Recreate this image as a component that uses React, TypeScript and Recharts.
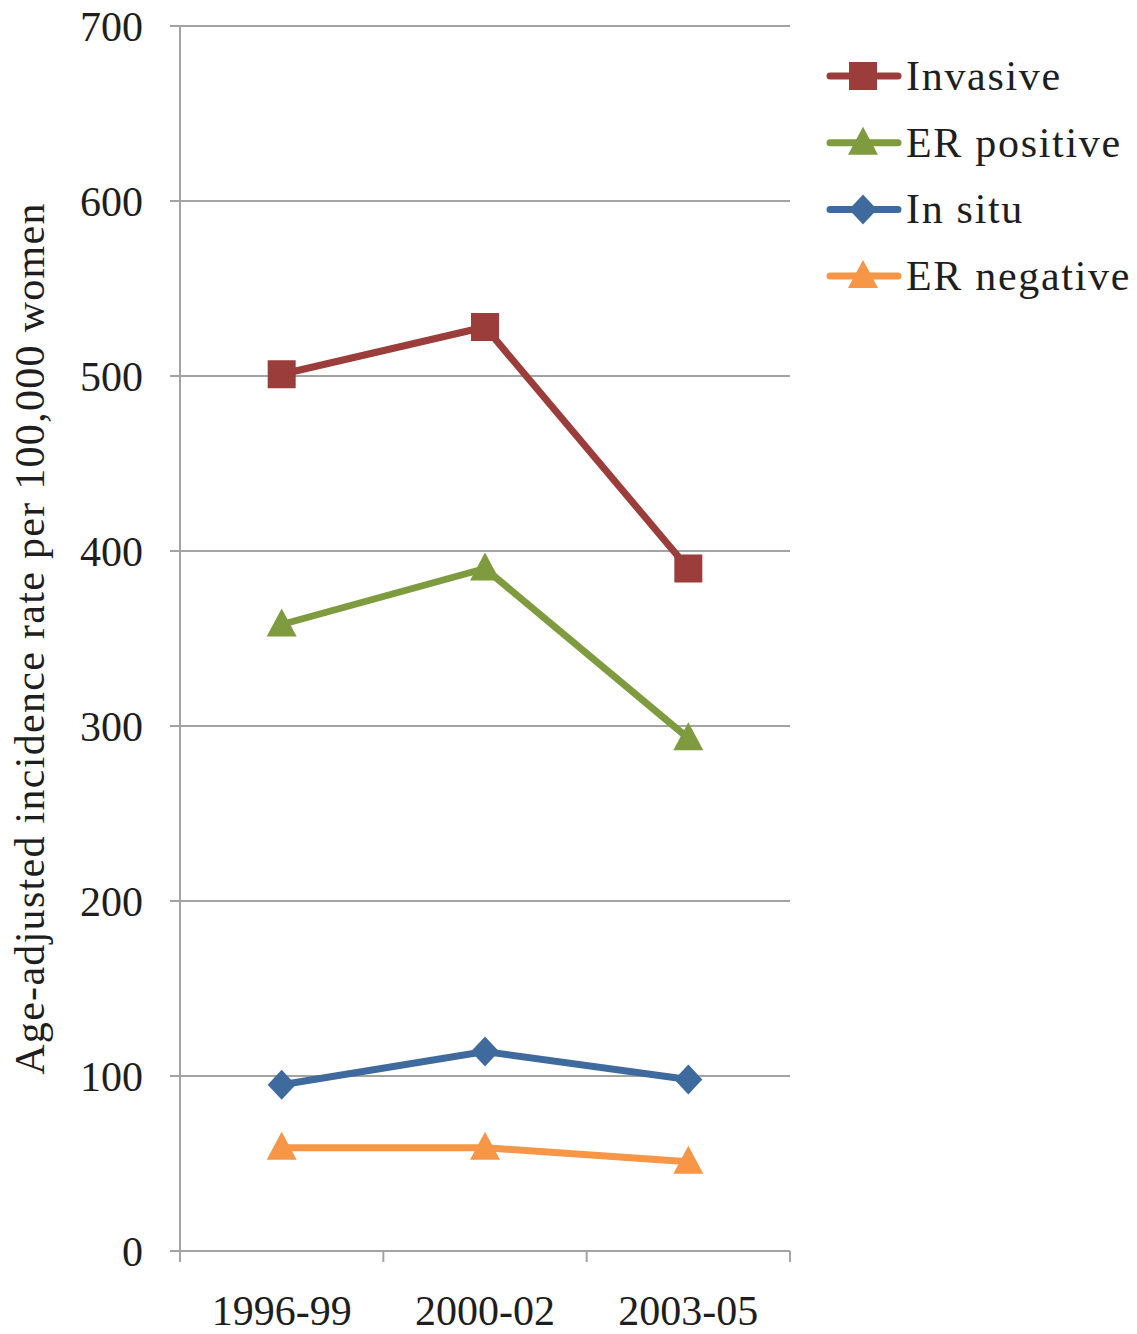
import React from 'react';
import { LineChart, Line, XAxis, YAxis, CartesianGrid, Legend } from 'recharts';

const categories = ['1996-99', '2000-02', '2003-05'];
const invasive = [501, 528, 390];
const erPositive = [358, 390, 293];
const inSitu = [95, 114, 98];
const erNegative = [59, 59, 51];
const yTicks = [0, 100, 200, 300, 400, 500, 600, 700];

const seriesNames = ['Invasive', 'ER positive', 'In situ', 'ER negative'];
const seriesKeys = ['invasive', 'erPositive', 'inSitu', 'erNegative'];
const seriesColors = ['#9B3D3A', '#7F9B3F', '#3F6A9D', '#F79646'];
const seriesShapes = ['square', 'triangle', 'diamond', 'triangle'];

const data = categories.map((c, i) => ({
  cat: c,
  invasive: invasive[i],
  erPositive: erPositive[i],
  inSitu: inSitu[i],
  erNegative: erNegative[i],
}));

const W = 1137;
const H = 1334;
const XAXIS_H = 30;
const MARGIN = { top: 26, right: 347, bottom: 53, left: 0 };
const YAXIS_W = 180;
const PLOT_LEFT = MARGIN.left + YAXIS_W;
const PLOT_W = W - MARGIN.right - PLOT_LEFT;
const PLOT_BOTTOM = H - MARGIN.bottom - XAXIS_H;
const PLOT_CY = (MARGIN.top + PLOT_BOTTOM) / 2;
const HALF_BAND = PLOT_W / categories.length / 2;
const FONT = '"Liberation Serif", "Times New Roman", serif';
const GRID = '#A3A3A3';
const TEXT = '#1E1E1E';

function Marker({ shape, cx, cy, color }: any) {
  if (cx == null || cy == null) return null;
  if (shape === 'square') {
    return <rect x={cx - 14} y={cy - 14} width={28} height={28} fill={color} />;
  }
  if (shape === 'diamond') {
    return <polygon points={`${cx},${cy - 15} ${cx + 14},${cy} ${cx},${cy + 15} ${cx - 14},${cy}`} fill={color} />;
  }
  return <polygon points={`${cx},${cy - 16} ${cx + 15},${cy + 12} ${cx - 15},${cy + 12}`} fill={color} />;
}

function XTick(props: any) {
  const { x, payload, index } = props;
  const last = index === categories.length - 1;
  return (
    <g>
      <line x1={x - HALF_BAND} x2={x - HALF_BAND} y1={PLOT_BOTTOM} y2={PLOT_BOTTOM + 11} stroke={GRID} strokeWidth={2} />
      {last && (
        <line x1={x + HALF_BAND} x2={x + HALF_BAND} y1={PLOT_BOTTOM} y2={PLOT_BOTTOM + 11} stroke={GRID} strokeWidth={2} />
      )}
      <text x={x} y={PLOT_BOTTOM + 74} textAnchor="middle" fontFamily={FONT} fontSize={42} fill={TEXT}>
        {payload.value}
      </text>
    </g>
  );
}

function LegendContent() {
  return (
    <svg width={311} height={270} style={{ overflow: 'visible' }}>
      {seriesNames.map((n, i) => {
        const cy = 36 + i * 66.7;
        return (
          <g key={n}>
            <line x1={4} x2={72} y1={cy} y2={cy} stroke={seriesColors[i]} strokeWidth={7} strokeLinecap="round" />
            <Marker shape={seriesShapes[i]} cx={37} cy={cy} color={seriesColors[i]} />
            <text x={80} y={cy + 14} fontFamily={FONT} fontSize={42} letterSpacing={1.7} fill={TEXT}>
              {n}
            </text>
          </g>
        );
      })}
    </svg>
  );
}

export default function App() {
  return (
    <div style={{ position: 'absolute', left: 0, top: 0, width: W, height: H, background: '#fff' }}>
      <LineChart width={W} height={H} data={data} margin={MARGIN}>
        <CartesianGrid horizontal vertical={false} stroke={GRID} strokeWidth={2} />
        <XAxis
          dataKey="cat"
          scale="band"
          height={XAXIS_H}
          axisLine={{ stroke: GRID, strokeWidth: 2 }}
          tickLine={false}
          tick={<XTick />}
          interval={0}
        />
        <YAxis
          width={YAXIS_W}
          domain={[0, 700]}
          ticks={yTicks}
          interval={0}
          axisLine={{ stroke: GRID, strokeWidth: 2 }}
          tickLine={{ stroke: GRID, strokeWidth: 2 }}
          tickSize={10}
          tickMargin={27}
          tick={{ fontFamily: FONT, fontSize: 42, fill: TEXT }}
          label={{
            content: () => (
              <text
                x={30}
                y={PLOT_CY}
                textAnchor="middle"
                dominantBaseline="central"
                transform={`rotate(-90, 30, ${PLOT_CY})`}
                fontFamily={FONT}
                fontSize={42}
                letterSpacing={1.3}
                fill={TEXT}
              >
                Age-adjusted incidence rate per 100,000 women
              </text>
            ),
          }}
        />
        {seriesKeys.map((k, i) => (
          <Line
            key={k}
            dataKey={k}
            name={seriesNames[i]}
            stroke={seriesColors[i]}
            strokeWidth={7}
            isAnimationActive={false}
            dot={(p: any) => <Marker key={`${k}-${p.index}`} shape={seriesShapes[i]} cx={p.cx} cy={p.cy} color={seriesColors[i]} />}
            activeDot={false}
          />
        ))}
        <Legend
          content={<LegendContent />}
          wrapperStyle={{ position: 'absolute', left: 826, top: 40, width: 0, height: 0, overflow: 'visible' }}
        />
      </LineChart>
    </div>
  );
}
